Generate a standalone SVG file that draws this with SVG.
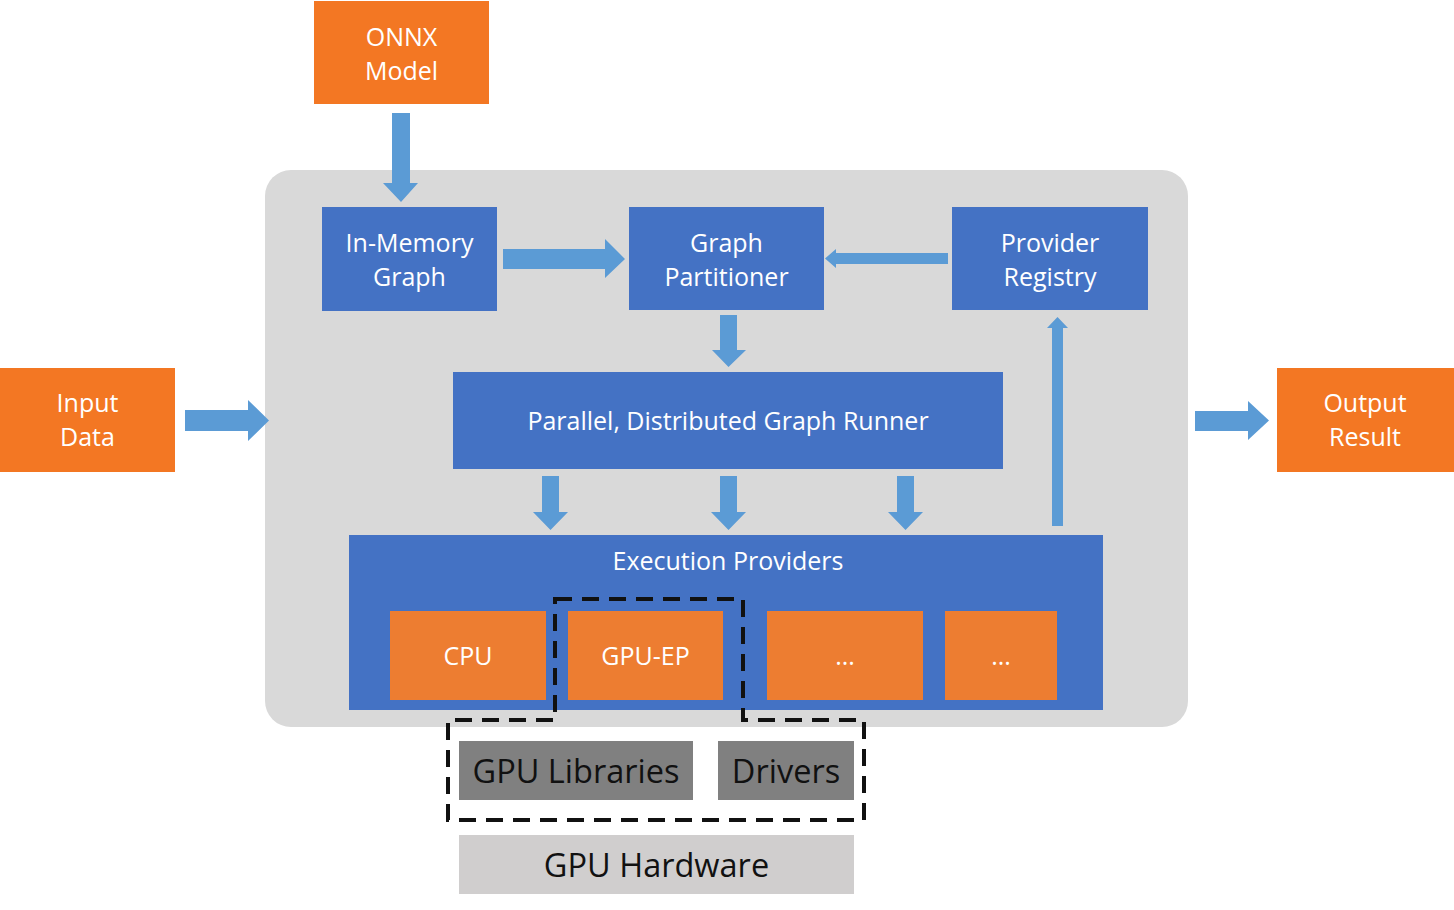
<svg xmlns="http://www.w3.org/2000/svg" width="1454" height="910" viewBox="0 0 1454 910">
<defs>
<style>
.blue{fill:#4472C4}
.org{fill:#F37723}
.org2{fill:#ED7D31}
.arr{fill:#5B9BD5}
.t{font-family:"Open Sans","Noto Sans","Liberation Sans",sans-serif;font-size:25px;fill:#FFFFFF;text-anchor:middle}
.tb{font-family:"Open Sans","Noto Sans","Liberation Sans",sans-serif;font-size:32.5px;fill:#111111;text-anchor:middle}
</style>
</defs>
<rect width="1454" height="910" fill="#FFFFFF"/>
<g id="container"><rect x="265" y="170" width="923" height="557" rx="26" fill="#D9D9D9"/></g>
<g id="onnx"><rect class="org" x="314" y="1" width="175" height="103"/><text class="t" x="401.5" y="46">ONNX</text><text class="t" x="401.5" y="80">Model</text></g>
<g id="inmem"><rect class="blue" x="322" y="207" width="175" height="104"/><text class="t" x="409.5" y="252">In-Memory</text><text class="t" x="409.5" y="286">Graph</text></g>
<g id="partitioner"><rect class="blue" x="629" y="207" width="195" height="103"/><text class="t" x="726.5" y="252">Graph</text><text class="t" x="726.5" y="286">Partitioner</text></g>
<g id="registry"><rect class="blue" x="952" y="207" width="196" height="103"/><text class="t" x="1050" y="252">Provider</text><text class="t" x="1050" y="286">Registry</text></g>
<g id="runner"><rect class="blue" x="453" y="372" width="550" height="97"/><text class="t" x="728" y="430">Parallel, Distributed Graph Runner</text></g>
<g id="exec"><rect class="blue" x="349" y="535" width="754" height="175"/><text class="t" x="728" y="570">Execution Providers</text></g>
<g id="cpu"><rect class="org2" x="390" y="611" width="156" height="89"/><text class="t" x="468" y="665">CPU</text></g>
<g id="gpuep"><rect class="org2" x="568" y="611" width="155" height="89"/><text class="t" x="645.5" y="665">GPU-EP</text></g>
<g id="ep3"><rect class="org2" x="767" y="611" width="156" height="89"/><text class="t" x="845" y="665">...</text></g>
<g id="ep4"><rect class="org2" x="945" y="611" width="112" height="89"/><text class="t" x="1001" y="665">...</text></g>
<g id="input"><rect class="org" x="0" y="368" width="175" height="104"/><text class="t" x="87.5" y="412">Input</text><text class="t" x="87.5" y="446">Data</text></g>
<g id="output"><rect class="org" x="1277" y="368" width="177" height="104"/><text class="t" x="1365" y="412">Output</text><text class="t" x="1365" y="446">Result</text></g>
<g id="gpulib"><rect x="459" y="741" width="234" height="59" fill="#808080"/><text class="tb" x="576" y="783">GPU Libraries</text></g>
<g id="drivers"><rect x="718" y="741" width="136" height="59" fill="#808080"/><text class="tb" x="786" y="783">Drivers</text></g>
<g id="hardware"><rect x="459" y="835" width="395" height="59" fill="#D0CECE"/><text class="tb" x="656.5" y="877">GPU Hardware</text></g>
<g id="dashed"><path d="M555,599 H743 V720 H864 V820 H448 V720 H555 Z" fill="none" stroke="#111111" stroke-width="4" stroke-dasharray="17,10"/></g>
<g id="connectors">
<polygon class="arr" points="392,113 410,113 410,183 418,183 401,202 383,183 392,183"/>
<polygon class="arr" points="503,249 605,249 605,239 625,259 605,278 605,269 503,269"/>
<polygon class="arr" points="948,253 836,253 836,249 825,258.5 836,268 836,264 948,264"/>
<polygon class="arr" points="720,315 737,315 737,350 746,350 728.5,367 712,350 720,350"/>
<polygon class="arr" points="542,476 559,476 559,512 568,512 550.5,530 533,512 542,512"/>
<polygon class="arr" points="720,476 737,476 737,512 746,512 728.5,530 711,512 720,512"/>
<polygon class="arr" points="897,476 914,476 914,512 923,512 905.5,530 888,512 897,512"/>
<polygon class="arr" points="1052,526 1063,526 1063,328 1068,328 1057.5,317 1047,328 1052,328"/>
<polygon class="arr" points="185,410 248,410 248,400 269,420.5 248,441 248,431 185,431"/>
<polygon class="arr" points="1195,411 1248,411 1248,401 1269,420.5 1248,440 1248,431 1195,431"/>
</g>
</svg>
